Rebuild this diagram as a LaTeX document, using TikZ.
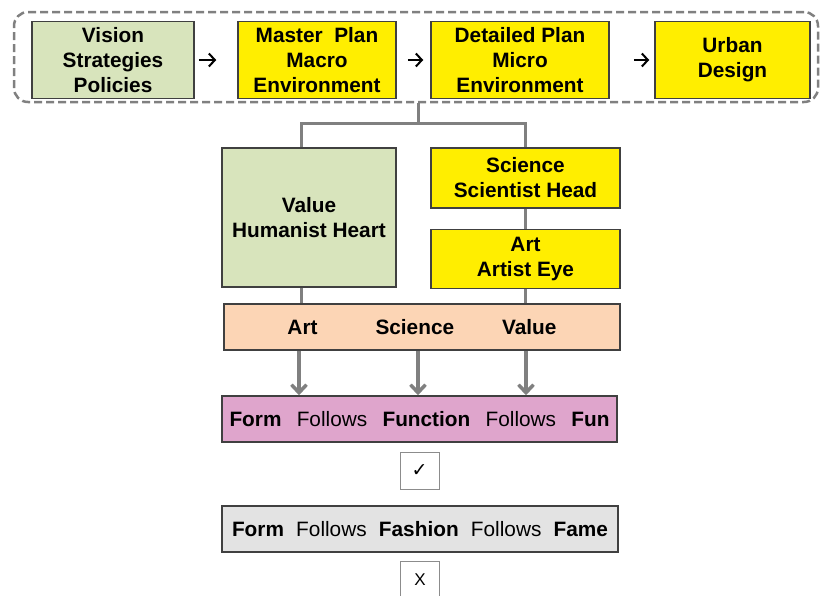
\documentclass[tikz,border=0pt]{standalone}
\usepackage{fontspec}
\setmainfont{Liberation Sans}
\newfontfamily\symfont{DejaVu Sans}
\usetikzlibrary{positioning,arrows.meta}

\definecolor{sage}{HTML}{D8E4BC}
\definecolor{lemon}{HTML}{FFEE00}
\definecolor{peach}{HTML}{FCD5B5}
\definecolor{orchid}{HTML}{DFA5CC}
\definecolor{mist}{HTML}{E3E3E3}
\definecolor{boxline}{HTML}{404040}
\definecolor{linkgray}{HTML}{808080}
\definecolor{markgray}{HTML}{8C8C8C}

\begin{document}
\begin{tikzpicture}[x=1pt,y=-1pt]
          \tikzset{BoxStyle/.style = {draw=boxline, line width=1.5pt, inner sep=0pt, align=center,
                   font=\fontsize{20.8}{25}\selectfont\bfseries}}
          \tikzset{PhraseStyle/.style = {BoxStyle, font=\fontsize{20.8}{25}\selectfont,
                   text width=380pt, inner xsep=7.5pt, minimum height=46pt}}
          \tikzset{MarkStyle/.style = {draw=markgray, line width=1pt, fill=white,
                   minimum width=39pt, minimum height=37pt}}
          \tikzset{FrameStyle/.style = {draw=linkgray, line width=2.5pt,
                   dash pattern=on 8pt off 4pt, rounded corners=14pt}}
          \tikzset{LinkStyle/.style = {draw=linkgray, line width=3pt}}
          \tikzset{StepArrow/.style = {-{Straight Barb[length=6pt,width=13pt]}, line width=2pt}}
          \tikzset{FlowArrow/.style = {-{Straight Barb[length=8pt,width=15pt]}, draw=linkgray, line width=3.5pt}}

          \useasboundingbox (0,0) rectangle (822,595);

          \node[BoxStyle, fill=sage, minimum width=162pt, minimum height=77pt] (Vision) at (113,60)
               {Vision\\Strategies\\Policies};
          \node[BoxStyle, fill=lemon, minimum width=158pt, minimum height=77pt, right=42.5pt of Vision] (Master)
               {Master\ \ Plan\\Macro\\Environment};
          \node[BoxStyle, fill=lemon, minimum width=178pt, minimum height=77pt, right=33.5pt of Master] (Detailed)
               {Detailed Plan\\Micro\\Environment};
          \node[BoxStyle, fill=lemon, minimum width=155pt, minimum height=77pt, right=44.5pt of Detailed] (Urban)
               {Urban\\Design};
          \node[FrameStyle, minimum width=804pt, minimum height=90pt] (Plan) at (416,57) {};

          \draw[StepArrow, shorten <=4pt, shorten >=21pt] (Vision) -- (Master);
          \draw[StepArrow, shorten <=11pt, shorten >=7pt] (Master) -- (Detailed);
          \draw[StepArrow, shorten <=24pt, shorten >=5pt] (Detailed) -- (Urban);

          \node[BoxStyle, fill=sage, minimum width=174pt, minimum height=139pt] (Value) at (309,217.5)
               {Value\\Humanist Heart};
          \node[BoxStyle, fill=lemon, minimum width=189pt, minimum height=60pt] (Science) at (525.5,178)
               {Science\\Scientist Head};
          \node[BoxStyle, fill=lemon, minimum width=189pt, minimum height=59pt, below=20pt of Science] (Art)
               {Art\\Artist Eye};

          \coordinate (Split) at (418,123);
          \draw[LinkStyle] (Plan.south -| Split) -- (Split);
          \draw[LinkStyle] ([xshift=-8pt]Value.north) |- (Split) -| (Science.north);
          \draw[LinkStyle] (Science) -- (Art);

          \node[BoxStyle, fill=peach, minimum width=396pt, minimum height=46pt] (Mix) at (422,327)
               {Art\hspace{58pt}Science\hspace{48pt}Value};
          \draw[LinkStyle] ([xshift=-8pt]Value.south) -- ([xshift=-8pt]Value.south |- Mix.north);
          \draw[LinkStyle] (Art.south) -- (Art.south |- Mix.north);

          \node[PhraseStyle, fill=orchid] (Fun) at (419.5,419)
               {\textbf{Form}\hfill Follows\hfill \textbf{Function}\hfill Follows\hfill \textbf{Fun}};
          \foreach \x in {299,418,526}
            \draw[FlowArrow] (\x,0 |- Mix.south) -- (\x,0 |- Fun.north);

          \node[MarkStyle, below=9pt of Fun] (Ok) {\fontsize{19}{19}\selectfont\symfont ✓};

          \node[PhraseStyle, fill=mist, text width=376pt, inner xsep=10pt] (Fame) at (420,529)
               {\textbf{Form}\hfill Follows\hfill \textbf{Fashion}\hfill Follows\hfill \textbf{Fame}};
          \node[MarkStyle, below=8pt of Fame] (No) {\fontsize{17}{17}\selectfont X};
        \end{tikzpicture}
\end{document}
